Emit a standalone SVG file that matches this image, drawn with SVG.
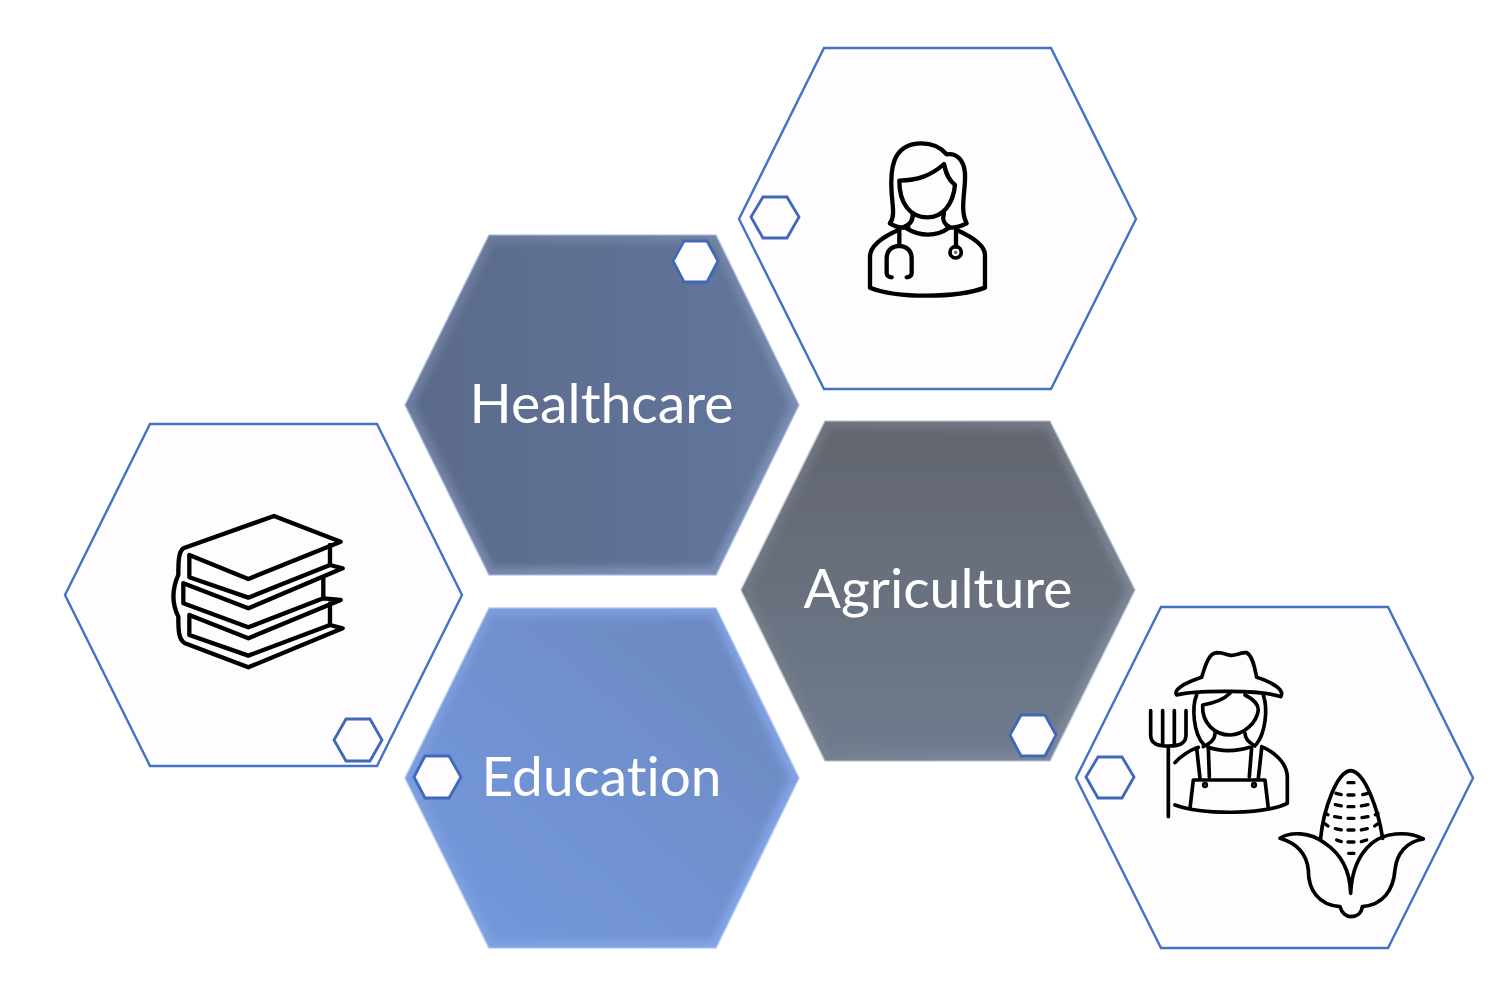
<svg xmlns="http://www.w3.org/2000/svg" width="1498" height="990" viewBox="0 0 1498 990">
<style>
.outline{fill:#fefcff;stroke:#4472c4;stroke-width:2.4}
.mini{fill:#fefcff;stroke:#3f68b8;stroke-width:2.8}
.label{font-family:"Lato","Liberation Sans",sans-serif;font-size:54px;fill:#ffffff;text-anchor:middle;font-variant-ligatures:none}
.ink{fill:none;stroke:#000;stroke-width:13;stroke-linecap:round;stroke-linejoin:round}
.thin{stroke-width:11}
.dash{stroke-width:10}
.rim{fill:none;stroke-width:1.6}
</style>
<defs>
<filter id="soft" x="-5%" y="-5%" width="110%" height="110%"><feGaussianBlur stdDeviation="3.5"/></filter>
<linearGradient id="hEdge" x1="0" y1="0" x2="1" y2="1"><stop offset="0" stop-color="#6b7892"/><stop offset="1" stop-color="#8094bc"/></linearGradient>
<linearGradient id="hFill" x1="0" y1="0" x2="1" y2="0"><stop offset="0" stop-color="#5a6a8b"/><stop offset="1" stop-color="#63769c"/></linearGradient>
<linearGradient id="aEdge" x1="0" y1="0" x2="1" y2="1"><stop offset="0" stop-color="#6d717a"/><stop offset="1" stop-color="#808c9e"/></linearGradient>
<linearGradient id="aFill" x1="0" y1="0" x2="0" y2="1"><stop offset="0" stop-color="#62666f"/><stop offset="1" stop-color="#6f7b8d"/></linearGradient>
<linearGradient id="eEdge" x1="0" y1="0" x2="1" y2="1"><stop offset="0" stop-color="#7a9ad8"/><stop offset="1" stop-color="#84a5e6"/></linearGradient>
<linearGradient id="eFill" x1="0" y1="1" x2="1" y2="0"><stop offset="0" stop-color="#7499e0"/><stop offset="1" stop-color="#6c89be"/></linearGradient>
</defs>

<g id="node-doctor">
<polygon class="outline" points="824,48 1051,48 1136,219 1051,389 824,389 739,219"/>
<polygon class="mini" points="763,197 787,197 799,217 787,238 763,238 751,217"/>
<g transform="translate(840 120) scale(.3333)" class="ink">
<path d="M150,310C165,290 158,260 155,220C150,150 155,70 245,70C280,70 305,85 320,103C350,98 372,120 375,160C378,210 358,270 380,310C360,320 340,325 322,322"/>
<path d="M150,310C165,320 185,325 205,322"/>
<path d="M178,182C230,180 270,170 312,132C318,160 325,180 345,195C340,250 310,292 262,292C210,292 178,250 178,182Z"/>
<path d="M218,280C220,300 210,315 190,322M312,280C305,300 315,315 330,322M200,325C240,350 290,350 325,325"/>
<path d="M175,330C130,350 90,375 90,410L90,503C170,535 350,535 435,503L435,405C435,375 395,350 350,330"/>
<path d="M178,330L178,378M155,472C148,472 140,468 140,460L140,415C140,365 215,365 215,415L215,460C215,468 207,472 200,472M348,330L348,380"/>
<circle cx="347" cy="397" r="17" stroke-width="11"/><circle cx="347" cy="397" r="3" stroke="#555" stroke-width="4"/>
</g>
</g>

<g id="node-books">
<polygon class="outline" points="150,424 377,424 462,595 377,766 150,766 65,595"/>
<polygon class="mini" points="346,719 370,719 382,740 370,761 346,761 334,740"/>
<g transform="translate(150 500) scale(.3333)" class="ink">
<path d="M100,145L372,48L572,125L295,237L118,165V232L295,293L540,195L578,205L295,325L100,250V310L295,382L520,295L572,300L295,415L118,345V405L295,467L540,375L578,385L295,502L105,430C85,420 85,390 85,350C65,310 65,270 85,225C85,190 85,155 100,145Z"/>
<path d="M540,135V195M520,235V295M540,310V375"/>
</g>
</g>

<g id="node-farmer">
<polygon class="outline" points="1161,607 1388,607 1473,778 1388,948 1161,948 1076,778"/>
<polygon class="mini" points="1098,757 1122,757 1134,777 1122,798 1098,798 1086,777"/>
<g transform="translate(1130 640) scale(.3333)" class="ink thin">
<path d="M140,165C130,150 160,130 215,112C225,80 235,40 260,38C285,38 290,46 305,46C320,46 335,36 350,38C370,50 375,90 380,112C430,128 465,150 452,170C400,150 200,150 140,165Z"/>
<path d="M200,165C185,200 190,280 220,312M400,165C415,210 405,280 380,312"/>
<path d="M218,195C250,190 280,180 300,160M345,165C365,175 385,190 385,210C380,250 340,285 300,285C255,285 215,250 218,195"/>
<path d="M255,280C255,300 240,310 220,320M345,280C345,300 360,310 375,318M235,322C270,335 320,335 358,322"/>
<path d="M135,368C150,350 180,330 205,322M395,320C430,335 470,365 472,410V490C400,525 220,525 135,495"/>
<path d="M200,325L210,415M235,322L238,410M365,322L358,410M395,325L385,415M180,505L190,420H405L415,505"/>
<circle cx="225" cy="435" r="4"/><circle cx="372" cy="435" r="4"/>
<path d="M62,212V285C62,310 80,318 115,318C150,318 168,310 168,285V212M98,212V318M133,212V318M115,318V530"/>
<path d="M572,595C580,510 620,395 662,392C705,395 745,510 758,595"/>
<path d="M450,595C480,575 540,575 585,610C630,640 660,690 662,760C665,690 690,640 725,610C760,580 830,570 880,597C830,605 800,640 795,690C790,750 760,795 697,800C695,820 680,830 662,830C650,830 635,820 630,800C565,795 535,750 535,690C530,640 500,610 450,595Z"/>
<path class="dash" d="M654,428H672M618,460L634,464M654,465H672M698,464L714,460M616,494L634,498M654,500H672M694,498L714,494M586,520L594,524M614,530L632,533M654,535H672M696,533L714,530M736,524L744,520M586,552L594,558M616,566L634,570M654,570H672M694,570L712,566M734,558L742,552M620,600L634,605M654,606H672M694,605L710,600M656,640H672"/>
</g>
</g>

<g id="node-healthcare">
<polygon fill="url(#hEdge)" points="489,235 716,235 799,405 716,575 489,575 405,405"/>
<polygon fill="url(#hFill)" filter="url(#soft)" points="493,243 712,243 790,405 712,567 493,567 414,405"/>
<polygon class="rim" stroke="#a7bbe0" stroke-opacity=".75" points="489,235 716,235 799,405 716,575 489,575 405,405"/>
<polygon class="mini" points="684,241 707,241 718,261 707,282 684,282 673,261"/>
<text class="label" x="601.5" y="423" textLength="264" lengthAdjust="spacingAndGlyphs">Healthcare</text>
</g>

<g id="node-agriculture">
<polygon fill="url(#aEdge)" points="825,421 1050,421 1135,590 1050,761 825,761 741,590"/>
<polygon fill="url(#aFill)" filter="url(#soft)" points="829,429 1046,429 1126,590 1046,753 829,753 750,590"/>
<polygon class="rim" stroke="#b4c0d2" stroke-opacity=".75" points="825,421 1050,421 1135,590 1050,761 825,761 741,590"/>
<polygon class="mini" points="1021,715 1045,715 1056,735 1045,756 1021,756 1010,735"/>
<text class="label" x="938" y="608" textLength="269" lengthAdjust="spacingAndGlyphs">Agriculture</text>
</g>

<g id="node-education">
<polygon fill="url(#eEdge)" points="489,608 716,608 799,778 716,948 489,948 405,778"/>
<polygon fill="url(#eFill)" filter="url(#soft)" points="493,616 712,616 790,778 712,940 493,940 414,778"/>
<polygon class="rim" stroke="#a9c4f5" stroke-opacity=".8" points="489,608 716,608 799,778 716,948 489,948 405,778"/>
<polygon class="mini" points="425,756 449,756 461,777 449,798 425,798 414,777"/>
<text class="label" x="601.5" y="796" textLength="240" lengthAdjust="spacingAndGlyphs">Education</text>
</g>
</svg>
